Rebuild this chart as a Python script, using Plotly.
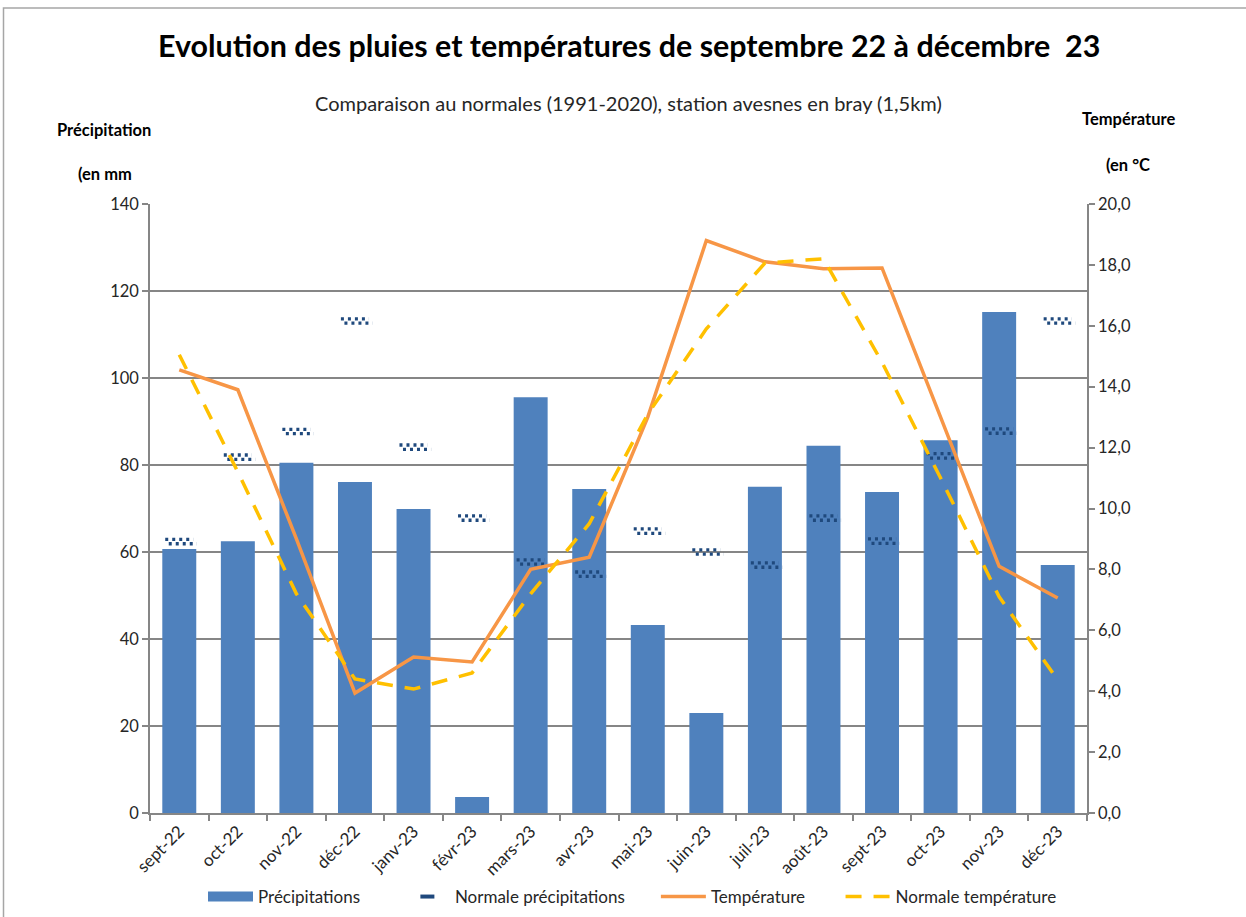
import plotly.graph_objects as go

months = ["sept-22", "oct-22", "nov-22", "déc-22", "janv-23", "févr-23", "mars-23", "avr-23",
          "mai-23", "juin-23", "juil-23", "août-23", "sept-23", "oct-23", "nov-23", "déc-23"]
precipitations = [60.7, 62.5, 80.5, 76.1, 69.9, 3.7, 95.6, 74.5, 43.2, 23.0, 75.0, 84.4, 73.8, 85.7, 115.2, 57.0]
normale_precip = [62.4, 81.8, 87.7, 113.1, 84.1, 67.8, 57.7, 54.9, 64.8, 60.0, 57.0, 67.8, 62.5, 82.1, 87.8, 113.1]
temperature = [14.55, 13.9, 9.0, 3.94, 5.12, 4.96, 8.0, 8.4, 13.0, 18.8, 18.1, 17.87, 17.9, 13.0, 8.1, 7.06]
normale_temp = [15.05, 11.2, 7.2, 4.4, 4.07, 4.6, 7.2, 9.5, 13.1, 15.9, 18.06, 18.2, 14.8, 11.0, 7.1, 4.37]

FONT = "Lato"
W, H = 1246, 917
L, R, T, B = 150, 1087, 204, 813
BLUE = "#4F81BD"
DARK = "#1F497D"
ORANGE = "#F79646"
YELLOW = "#FFC000"
NB = "\u00a0"

xs = list(range(len(months)))

fig = go.Figure()

fig.add_trace(go.Bar(
    x=xs, y=precipitations, name="Précipitations", showlegend=False,
    marker=dict(color=BLUE, line=dict(width=0)),
    yaxis="y", width=0.58,
))

# legend-only entries
fig.add_trace(go.Scatter(x=[None], y=[None], mode="lines", name="Précipitations" + NB * 8,
                         line=dict(color=BLUE, width=11), yaxis="y"))
fig.add_trace(go.Scatter(x=[None], y=[None], mode="markers", name="Normale précipitations" + NB * 6,
                         marker=dict(symbol="line-ew", size=10, line=dict(color=DARK, width=4)),
                         yaxis="y"))


def seg(vals, dy, dx):
    sx, sy = [], []
    for i, v in enumerate(vals):
        sx += [i - 0.24 + dx, i + 0.24 + dx, None]
        sy += [v + dy, v + dy, None]
    return sx, sy


for dy, dx in [(0.5, 0.0), (-0.5, 0.06)]:
    sx, sy = seg(normale_precip, dy, dx)
    fig.add_trace(go.Scatter(
        x=sx, y=sy, mode="lines", name="Normale précipitations", showlegend=False,
        line=dict(color=DARK, width=3.3, dash="3px,4px"), yaxis="y",
    ))

fig.add_trace(go.Scatter(
    x=xs, y=temperature, mode="lines", name="Température" + NB * 7,
    line=dict(color=ORANGE, width=3.5), yaxis="y2",
))
fig.add_trace(go.Scatter(
    x=xs, y=normale_temp, mode="lines", name="Normale température",
    line=dict(color=YELLOW, width=3.5, dash="16px,12px"), yaxis="y2",
))


def px_x(p):
    return (p - L) / (R - L)


def px_y(p):
    return (B - p) / (B - T)


TICKC = "#262626"
fig.update_layout(
    width=W, height=H,
    margin=dict(l=L, r=W - R, t=T, b=H - B, pad=0, autoexpand=False),
    paper_bgcolor="white", plot_bgcolor="white",
    font=dict(family=FONT, size=15, color=TICKC),
    separators=", ",
    bargap=0.42,
    showlegend=True,
    legend=dict(orientation="h", x=px_x(203), xanchor="left", y=px_y(897), yanchor="middle",
                font=dict(size=17, color=TICKC), traceorder="normal",
                itemwidth=45, bgcolor="rgba(0,0,0,0)"),
    xaxis=dict(
        range=[-0.5, len(months) - 0.5],
        tickmode="array", tickvals=xs, ticktext=months, tickangle=-45,
        ticks="", showgrid=False, zeroline=False,
        showline=True, linecolor="#868686", linewidth=1.5,
        tickfont=dict(size=17, color=TICKC),
        minor=dict(tickmode="linear", tick0=-0.5, dtick=1, ticks="outside",
                   ticklen=6, tickcolor="#868686", tickwidth=1.5, showgrid=False),
    ),
    yaxis=dict(
        range=[0, 140], dtick=20, tick0=0,
        showgrid=True, gridcolor="#868686", gridwidth=1.5,
        showline=True, linecolor="#868686", linewidth=1.5,
        ticks="outside", ticklen=6, tickcolor="#868686", tickwidth=1.5,
        zeroline=False, tickfont=dict(size=16.5, color=TICKC),
    ),
    yaxis2=dict(
        range=[0, 20], dtick=2, tick0=0, tickformat=".1f",
        overlaying="y", side="right", showgrid=False,
        showline=True, linecolor="#868686", linewidth=1.5,
        ticks="outside", ticklen=6, tickcolor="#868686", tickwidth=1.5,
        zeroline=False, tickfont=dict(size=16.5, color=TICKC),
    ),
)

annotations = [
    dict(text="<b>Evolution des pluies et températures de septembre 22 à décembre  23</b>",
         x=px_x(629), y=px_y(45), font=dict(size=30.4, color="black")),
    dict(text="Comparaison au normales (1991-2020), station avesnes en bray (1,5km)",
         x=px_x(628), y=px_y(103), font=dict(size=20, color=TICKC)),
    dict(text="<b>Précipitation</b>", x=px_x(104), y=px_y(130), font=dict(size=16.5, color="black")),
    dict(text="<b>(en mm</b>", x=px_x(105), y=px_y(174), font=dict(size=16.5, color="black")),
    dict(text="<b>Température</b>", x=px_x(1128), y=px_y(119), font=dict(size=16.5, color="black")),
    dict(text="<b>(en °C</b>", x=px_x(1128), y=px_y(165), font=dict(size=16.5, color="black")),
]
for a in annotations:
    a.update(xref="paper", yref="paper", showarrow=False, xanchor="center", yanchor="middle")
fig.update_layout(annotations=annotations)

fig.add_shape(type="rect", xref="paper", yref="paper",
              x0=px_x(3.5), x1=px_x(1250), y0=px_y(925), y1=px_y(8),
              line=dict(color="#A6A6A6", width=1.5), fillcolor="rgba(0,0,0,0)", layer="below")

fig.write_html("out.html", config={"displayModeBar": False},
               post_script="document.body.style.margin='0px';document.body.style.overflow='hidden';")
